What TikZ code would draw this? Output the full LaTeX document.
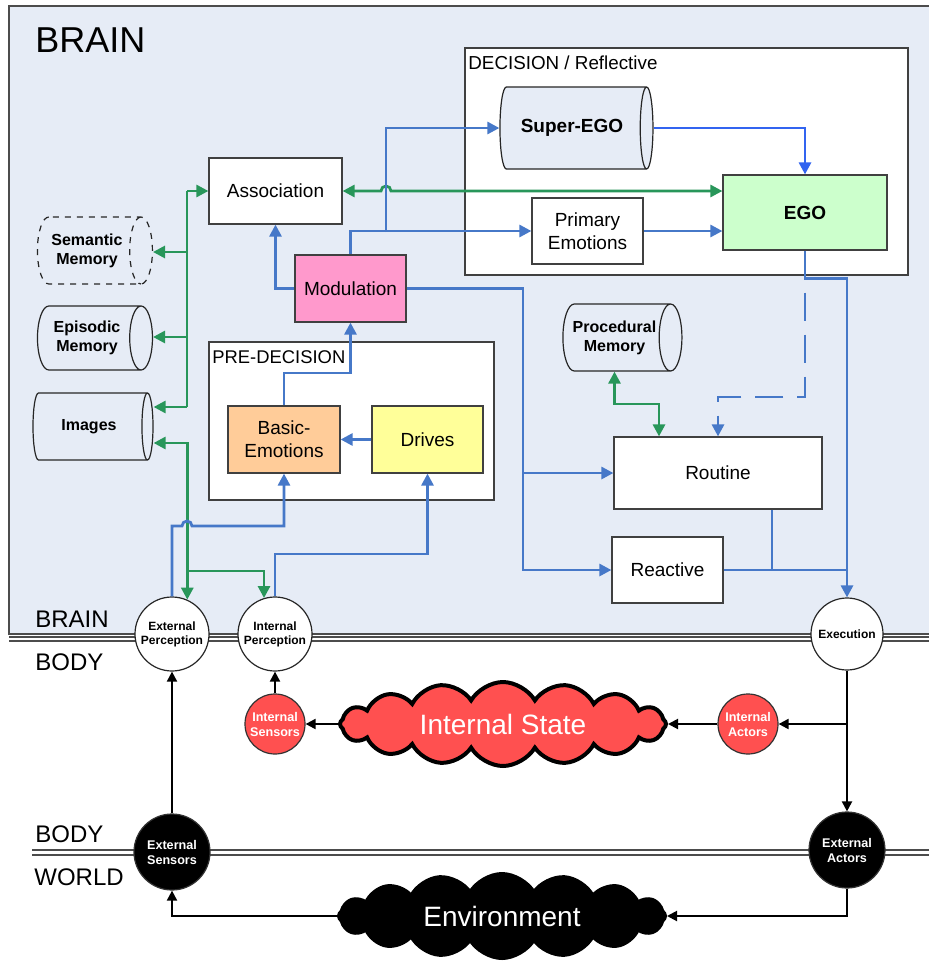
\documentclass[tikz,border=0pt]{standalone}
\usepackage{fontspec}
\setmainfont{Liberation Sans}
\usetikzlibrary{shapes.geometric,shapes.symbols,arrows.meta}

\definecolor{brainbg}{RGB}{230,236,246}
\definecolor{lineblue}{RGB}{70,120,200}
\definecolor{egoblue}{RGB}{50,100,240}
\definecolor{linegreen}{RGB}{40,150,90}
\definecolor{modpink}{RGB}{255,153,204}
\definecolor{emoorange}{RGB}{255,204,153}
\definecolor{drvyellow}{RGB}{255,255,153}
\definecolor{egogreen}{RGB}{204,255,204}
\definecolor{bodyred}{RGB}{255,80,80}

\begin{document}
\begin{tikzpicture}[x=0.5pt,y=-0.5pt,
    box/.style={draw=black!75,line width=0.6pt,fill=white,align=center,inner sep=1pt,font=\fontsize{9.5}{11.5}\selectfont},
    memory/.style={cylinder,aspect=0.6,draw=black!85,line width=0.6pt,fill=brainbg,align=center,inner sep=1pt,font=\fontsize{8}{9.5}\selectfont\bfseries},
    percept/.style={circle,draw=black!85,line width=0.6pt,fill=white,align=center,inner sep=0pt,font=\fontsize{6}{7}\selectfont\bfseries},
    organ/.style={circle,draw=black!80,line width=0.6pt,align=center,inner sep=0pt,text=white,font=\fontsize{6.3}{7.5}\selectfont\bfseries},
    bodycloud/.style={cloud,cloud puffs=16,cloud puff arc=120,cloud ignores aspect,draw=black,line width=2pt,text=white,font=\fontsize{14}{16}\selectfont,minimum width=163pt,minimum height=42pt},
    layer/.style={anchor=base west,inner sep=0pt,font=\fontsize{12}{14}\selectfont},
    bl/.style={draw=lineblue,line width=1.4pt,-{Triangle[length=6pt,width=6pt]}},
    bline/.style={draw=lineblue,line width=1.4pt},
    gr/.style={draw=linegreen,line width=1.4pt,-{Triangle[length=6pt,width=6pt]}},
    grtwo/.style={draw=linegreen,line width=1.4pt,{Triangle[length=6pt,width=6pt]}-{Triangle[length=6pt,width=6pt]}},
    gline/.style={draw=linegreen,line width=1.4pt},
    bk/.style={draw=black,line width=1pt,-{Triangle[length=5pt,width=5pt]}}]
    \useasboundingbox (0,0) rectangle (929,964);
    %% brain area and layer borders
    \draw[draw=black!70,line width=0.7pt,fill=brainbg] (9,6) rectangle (935,634);
    \draw[black!70,line width=0.8pt] (9,637) -- (929,637) (9,641) -- (929,641);
    \draw[black!70,line width=0.8pt] (32,850) -- (929,850) (32,855) -- (929,855);
    \node[anchor=base west,inner sep=0pt,font=\fontsize{18}{20}\selectfont] (brain) at (35,52) {BRAIN};
    \node[layer] (lbrain) at (35,627) {BRAIN};
    \node[layer] (lbody) at (35,670) {BODY};
    \node[layer] (lbodyw) at (35,842) {BODY};
    \node[layer] (lworld) at (34,885) {WORLD};
    %% decision and pre-decision frames
    \draw[draw=black!75,line width=0.6pt,fill=white] (465,48) rectangle (908,275);
    \node[anchor=base west,inner sep=0pt,font=\fontsize{9.4}{11}\selectfont] (ldec) at (468,69) {DECISION / Reflective};
    \draw[draw=black!75,line width=0.6pt,fill=white] (209,342) rectangle (494,500);
    \node[anchor=base west,inner sep=0pt,font=\fontsize{9.2}{11}\selectfont] (lpre) at (212,363) {PRE-DECISION};
    %% boxes
    \node[box,minimum width=66.5pt,minimum height=33pt] (assoc) at (275.5,191) {Association};
    \node[box,fill=modpink,minimum width=55.5pt,minimum height=33.5pt] (modul) at (350.5,288.5) {Modulation};
    \node[box,fill=emoorange,minimum width=56pt,minimum height=33.5pt] (basic) at (284,439.5) {Basic-\\Emotions};
    \node[box,fill=drvyellow,minimum width=55.5pt,minimum height=33.5pt] (drives) at (427.5,439.5) {Drives};
    \node[box,minimum width=55.5pt,minimum height=33pt] (primemo) at (587.5,231) {Primary\\Emotions};
    \node[box,fill=egogreen,font=\fontsize{9.5}{11.5}\selectfont\bfseries,minimum width=82pt,minimum height=37.5pt] (ego) at (805,212.5) {EGO};
    \node[box,minimum width=104pt,minimum height=36pt] (routine) at (718,473) {Routine};
    \node[box,minimum width=55.5pt,minimum height=33pt] (reactive) at (667.5,570) {Reactive};
    %% memories (cylinder: height runs along the axis)
    \node[memory,font=\fontsize{9.5}{11.5}\selectfont\bfseries,minimum height=76.5pt,minimum width=41pt] (superego) at (572,128) {Super-EGO};
    \node[memory,dashed,minimum height=57.5pt,minimum width=33.5pt] (semmem) at (87,250.5) {Semantic\\Memory};
    \node[memory,minimum height=57.5pt,minimum width=32pt] (epimem) at (87,338) {Episodic\\Memory};
    \node[memory,minimum height=60pt,minimum width=33.5pt] (images) at (89,426.5) {Images};
    \node[memory,minimum height=59.5pt,minimum width=33.5pt] (procmem) at (614.5,337.5) {Procedural\\Memory};
    %% perception, execution and body
    \node[percept,minimum size=37pt] (extperc) at (172,634) {External\\Perception};
    \node[percept,minimum size=37pt] (intperc) at (275,634) {Internal\\Perception};
    \node[percept,minimum size=36pt] (exec) at (847,634) {Execution};
    \node[organ,fill=bodyred,minimum size=30pt] (intsens) at (275,724) {Internal\\Sensors};
    \node[organ,fill=bodyred,minimum size=30pt] (intact) at (748,724) {Internal\\Actors};
    \node[organ,fill=black,minimum size=38pt] (extsens) at (172,852) {External\\Sensors};
    \node[organ,fill=black,minimum size=38pt] (extact) at (847,850) {External\\Actors};
    \node[bodycloud,fill=bodyred] (intstate) at (503,724) {Internal State};
    \node[bodycloud,fill=black] (envir) at (502,916) {Environment};
    \coordinate (bus) at (187,0);
    \coordinate (split) at (386,232);
    %% green memory bus
    \draw[gline] (bus |- 0,407) -- (bus |- assoc.west);
    \draw[gr] (bus |- assoc.west) -- (assoc.west);
    \foreach \m/\y in {semmem/252,epimem/337,images/407}
        \draw[gr] (bus |- 0,\y) -- (\m.east |- 0,\y);
    \draw[grtwo] (images.east |- 0,443) -| (extperc.66);
    \draw[gr] (bus |- 0,571) -| (intperc.107);
    \draw[grtwo] (assoc.east) -- (381,191) arc[start angle=180,end angle=0,radius=2.5pt] -- (ego.west |- assoc.east);
    \draw[grtwo] (procmem.south) -- (procmem.south |- 0,404) -| (routine.north -| 659,0);
    %% blue flow
    \draw[bl] (extperc.north) -- (extperc.north |- 0,526) -- (182,526) arc[start angle=180,end angle=0,radius=2.5pt] -| (basic.south);
    \draw[bl] (intperc.north) -- (intperc.north |- 0,554) -| (drives.south);
    \draw[bl] (drives.west) -- (basic.east);
    \draw[bl] (basic.north) -- (basic.north |- 0,373) -| (modul.south);
    \draw[bl] (modul.west) -| (assoc.south);
    \draw[bl] (modul.north) |- (primemo.west);
    \draw[bl] (split) |- (superego.west);
    \draw[bl,draw=egoblue] (superego.east) -| (ego.north);
    \draw[bl] (primemo.east) -- (ego.west |- primemo.east);
    \draw[bl] (modul.east) -- (modul.east -| 523,0) |- (routine.west);
    \draw[bl] (routine.west -| 523,0) |- (reactive.west);
    \draw[bl] (ego.south) -- ++(0,28) -| (exec.north);
    \draw[bl,dash pattern=on 14pt off 7pt] (ego.south) -- (ego.south |- 0,397) -| (routine.north -| 718,0);
    \draw[bline] (reactive.east) -- (reactive.east -| exec.north);
    \draw[bline] (routine.south -| 772,0) -- (reactive.east -| 772,0);
    %% body loop
    \draw[bk] (exec.south) -- (extact.north);
    \draw[bk] (exec.south |- intact.east) -- (intact.east);
    \draw[bk] (intact.west) -- (intstate.east);
    \draw[bk] (intstate.west) -- (intsens.east);
    \draw[bk] (intsens.north) -- (intperc.south);
    \draw[bk] (extsens.north) -- (extperc.south);
    \draw[bk] (extact.south) |- (envir.east);
    \draw[bk] (envir.west) -| (extsens.south);
\end{tikzpicture}
\end{document}
